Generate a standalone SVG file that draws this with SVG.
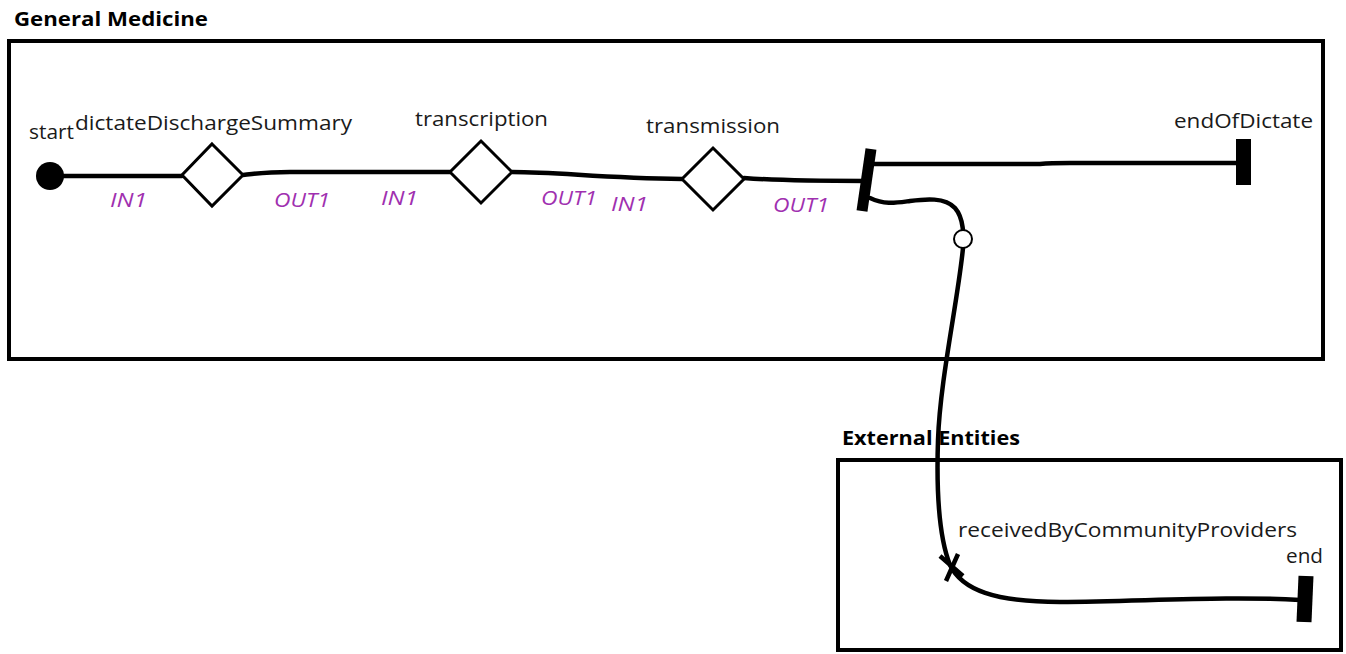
<svg xmlns="http://www.w3.org/2000/svg" width="1346" height="654" viewBox="0 0 1346 654">
<style>
.pool{fill:none;stroke:#000;stroke-width:4}
.title{font-family:"Open Sans","Noto Sans",sans-serif;font-weight:bold;font-size:20px;fill:#000}
.lbl{font-family:"Open Sans","Noto Sans",sans-serif;font-size:20px;fill:#1a1a1a}
.port{font-family:"Open Sans","Noto Sans",sans-serif;font-style:italic;font-size:20px;fill:#a030b0}
.conn{fill:none;stroke:#000;stroke-width:4.5;stroke-linecap:round}
.act{fill:#fff;stroke:#000;stroke-width:3}
</style>
<rect width="1346" height="654" fill="#fff"/>
<g id="pool-general">
<rect class="pool" x="9" y="41" width="1314" height="318"/>
<text class="title" x="14" y="26" textLength="194" lengthAdjust="spacingAndGlyphs">General Medicine</text>
</g>
<g id="pool-external">
<rect class="pool" x="838" y="460" width="503" height="190"/>
<text class="title" x="842" y="445" textLength="178" lengthAdjust="spacingAndGlyphs">External Entities</text>
</g>
<g id="connectors">
<path class="conn" d="M50,176 L182,176"/>
<path class="conn" d="M243,175 C255,174 262,172 290,172 L450,172"/>
<path class="conn" d="M512,172 C560,172 600,178 682,179"/>
<path class="conn" d="M744,178 C770,180 790,181 866,181"/>
<path class="conn" d="M872,164 L1040,164 C1050,163 1060,163 1070,163 L1240,163"/>
<path class="conn" d="M870,198 C885,205 895,203 910,201 C925,199 945,197 955,208 C962,216 962,224 963,230"/>
<path class="conn" d="M963,248 C958,300 940,380 938,440 C936,500 940,540 950,565 C962,590 995,602 1060,602 C1150,601 1230,596 1300,600"/>
</g>
<g id="start">
<circle cx="50" cy="176" r="14" fill="#000"/>
<text class="lbl" x="29" y="139" textLength="45" lengthAdjust="spacingAndGlyphs">start</text>
</g>
<g id="dictateDischargeSummary">
<polygon class="act" points="212,144 243,175 212,206 182,175"/>
<text class="lbl" x="75" y="130" textLength="277" lengthAdjust="spacingAndGlyphs">dictateDischargeSummary</text>
<text class="port" x="110" y="207" textLength="37" lengthAdjust="spacingAndGlyphs">IN1</text>
<text class="port" x="274" y="207" textLength="56" lengthAdjust="spacingAndGlyphs">OUT1</text>
</g>
<g id="transcription">
<polygon class="act" points="481,141 512,172 481,203 450,172"/>
<text class="lbl" x="415" y="126" textLength="133" lengthAdjust="spacingAndGlyphs">transcription</text>
<text class="port" x="381" y="205" textLength="37" lengthAdjust="spacingAndGlyphs">IN1</text>
<text class="port" x="541" y="205" textLength="56" lengthAdjust="spacingAndGlyphs">OUT1</text>
</g>
<g id="transmission">
<polygon class="act" points="713,148 744,179 713,210 682,179"/>
<text class="lbl" x="646" y="133" textLength="134" lengthAdjust="spacingAndGlyphs">transmission</text>
<text class="port" x="611" y="211" textLength="37" lengthAdjust="spacingAndGlyphs">IN1</text>
<text class="port" x="773" y="212" textLength="56" lengthAdjust="spacingAndGlyphs">OUT1</text>
</g>
<g id="split">
<path d="M871,149 L862,211" stroke="#000" stroke-width="11" fill="none"/>
</g>
<g id="endOfDictate">
<rect x="1236" y="139" width="15" height="46" fill="#000"/>
<text class="lbl" x="1174" y="128" textLength="139" lengthAdjust="spacingAndGlyphs">endOfDictate</text>
</g>
<g id="event">
<circle cx="963" cy="239" r="9" fill="#fff" stroke="#000" stroke-width="2"/>
</g>
<g id="receivedByCommunityProviders">
<path d="M940,556 L963,576 M958,554 L946,581" stroke="#000" stroke-width="4.5" fill="none"/>
<text class="lbl" x="958" y="537" textLength="339" lengthAdjust="spacingAndGlyphs">receivedByCommunityProviders</text>
</g>
<g id="end">
<path d="M1306,576 L1304,622" stroke="#000" stroke-width="15" fill="none"/>
<text class="lbl" x="1286" y="563" textLength="37" lengthAdjust="spacingAndGlyphs">end</text>
</g>
</svg>
